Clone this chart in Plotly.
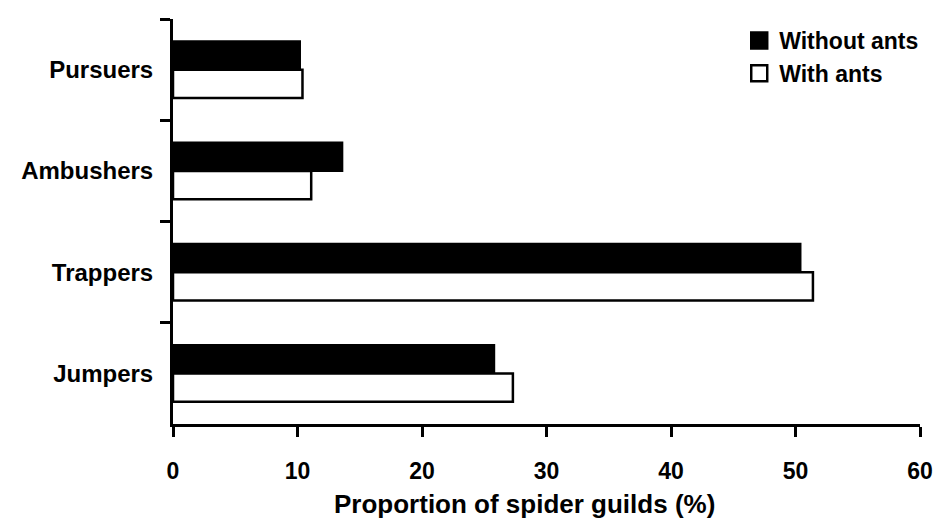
import plotly.graph_objects as go

# Spider guild proportions (%) in plots with and without ants
guilds = ["Pursuers", "Ambushers", "Trappers", "Jumpers"]
without_ants = [10.2, 13.6, 50.4, 25.8]
with_ants = [10.4, 11.1, 51.4, 27.3]
x_ticks = [0, 10, 20, 30, 40, 50, 60]

FONT = "Liberation Sans, Arial, sans-serif"

series = [
    ("Without ants", without_ants, "black", 2.0),
    ("With ants", with_ants, "white", 2.5),
]

fig = go.Figure()
for name, values, fill, lw in series:
    fig.add_trace(go.Bar(
        y=guilds, x=values, orientation="h", name=name,
        legendgroup=name, showlegend=False,
        marker=dict(color=fill, line=dict(color="black", width=lw)),
    ))
# Larger square keys for the legend
for name, values, fill, lw in series:
    fig.add_trace(go.Scatter(
        x=[None], y=[None], mode="markers", name=name, legendgroup=name,
        marker=dict(symbol="square", size=16, color=fill,
                    line=dict(color="black", width=2.5)),
    ))

fig.update_layout(
    template="none",
    width=940, height=518,
    margin=dict(l=173, r=20, t=19, b=94, autoexpand=False),
    paper_bgcolor="white", plot_bgcolor="white",
    barmode="group", bargap=0.44, bargroupgap=0,
    font=dict(family=FONT, size=24, color="black", weight="bold"),
    showlegend=True,
    legend=dict(
        x=0.758, y=1.0, xanchor="left", yanchor="top",
        bgcolor="rgba(0,0,0,0)", borderwidth=0,
        font=dict(size=23, weight="bold"),
        tracegroupgap=0, itemsizing="trace",
    ),
    xaxis=dict(
        range=[0, 60], tickvals=x_ticks, ticktext=[str(v) for v in x_ticks],
        automargin=False,
        showgrid=False, zeroline=False, showline=True,
        linecolor="black", linewidth=3,
        ticks="outside", ticklen=10, tickwidth=3, tickcolor="black",
        tickfont=dict(size=23, weight="bold"), ticklabelstandoff=14,
    ),
    yaxis=dict(
        type="category", categoryorder="array", categoryarray=guilds,
        autorange="reversed", tickson="boundaries", automargin=False,
        showgrid=False, zeroline=False, showline=True,
        linecolor="black", linewidth=3,
        ticks="outside", ticklen=10, tickwidth=3, tickcolor="black",
        tickfont=dict(size=24, weight="bold"), ticklabelstandoff=12,
    ),
    annotations=[dict(
        text="Proportion of spider guilds (%)",
        xref="paper", yref="paper", x=0.471, y=-0.198,
        xanchor="center", yanchor="middle", showarrow=False,
        font=dict(size=26, weight="bold", color="black"),
    )],
)

fig.write_html("out.html")
